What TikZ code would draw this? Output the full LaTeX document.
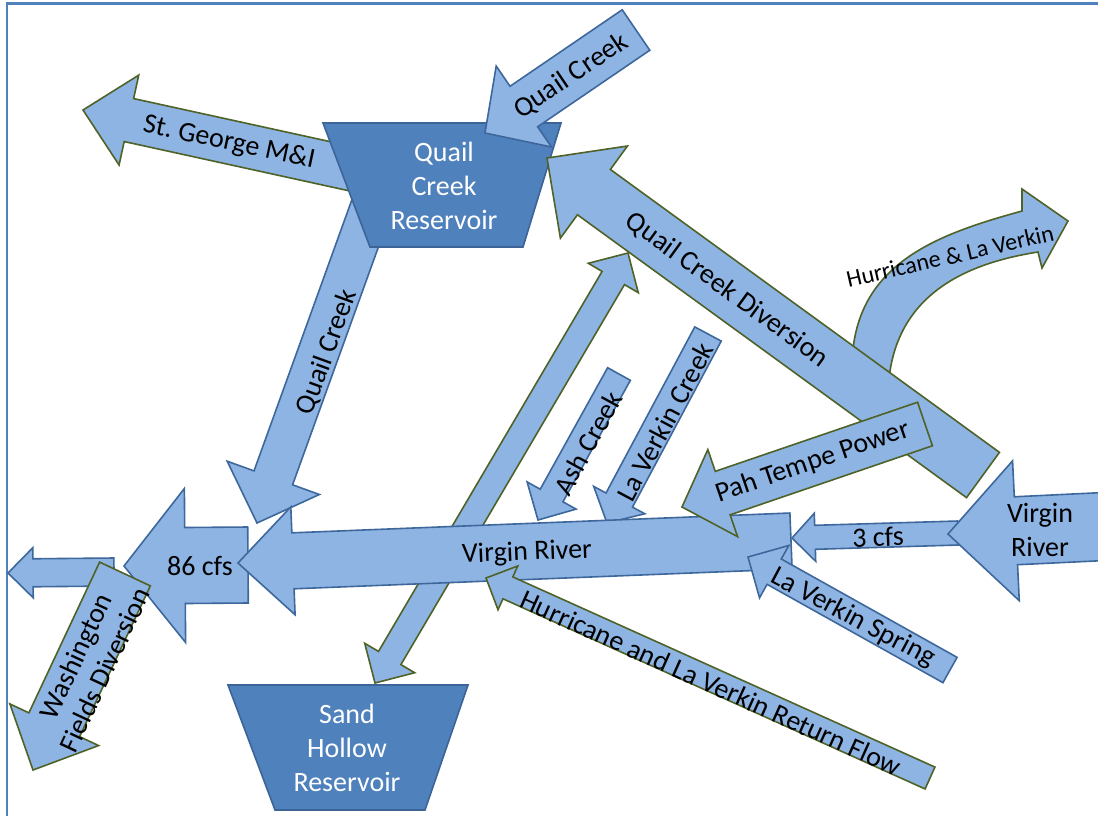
\documentclass[tikz,border=0pt]{standalone}
\usepackage{fontspec}
\setmainfont{Carlito}
\usetikzlibrary{calc}
\frenchspacing
\definecolor{arrowfill}{RGB}{142,180,227}
\definecolor{resfill}{RGB}{79,129,189}
\definecolor{resline}{RGB}{60,100,150}
\definecolor{blueline}{RGB}{62,104,156}
\definecolor{greenline}{RGB}{79,98,40}
\definecolor{framecol}{RGB}{79,129,189}
\tikzset{
  arrB/.style={fill=arrowfill, draw=blueline, line width=1.6pt},
  arrG/.style={fill=arrowfill, draw=greenline, line width=1.6pt},
  res/.style={fill=resfill, draw=resline, line width=1.6pt},
  lbl/.style={font=\fontsize{28}{32}\selectfont, inner sep=0pt, align=center, text=black},
  lblsmall/.style={font=\fontsize{24}{28}\selectfont, inner sep=0pt, text=black},
  reslbl/.style={font=\fontsize{28}{34}\selectfont, inner sep=0pt, align=center, text=white},
  frameline/.style={draw=framecol, line width=2.4pt}
}
% #1 name, #2 style, #3 tail, #4 tip, #5 half shaft, #6 half head, #7 head length
\newcommand{\blockarrow}[7]{%
  \coordinate (#1-t) at #3;
  \coordinate (#1-p) at #4;
  \coordinate (#1-n) at ($(#1-p)!#7!(#1-t)$);
  \draw[#2] ($(#1-t)!#5!90:(#1-p)$) -- ($(#1-n)!#5!90:(#1-p)$) -- ($(#1-n)!#6!90:(#1-p)$)
    -- (#1-p) -- ($(#1-n)!#6!-90:(#1-p)$) -- ($(#1-n)!#5!-90:(#1-p)$)
    -- ($(#1-t)!#5!-90:(#1-p)$) -- cycle;
}
% double headed: #1 name, #2 style, #3 end A, #4 end B, #5 half shaft, #6 half head, #7 head length
\newcommand{\dblockarrow}[7]{%
  \coordinate (#1-a) at #3;
  \coordinate (#1-b) at #4;
  \coordinate (#1-na) at ($(#1-a)!#7!(#1-b)$);
  \coordinate (#1-nb) at ($(#1-b)!#7!(#1-a)$);
  \draw[#2] (#1-a) -- ($(#1-na)!#6!90:(#1-b)$) -- ($(#1-na)!#5!90:(#1-b)$)
    -- ($(#1-nb)!#5!-90:(#1-a)$) -- ($(#1-nb)!#6!-90:(#1-a)$) -- (#1-b)
    -- ($(#1-nb)!#6!90:(#1-a)$) -- ($(#1-nb)!#5!90:(#1-a)$)
    -- ($(#1-na)!#5!-90:(#1-b)$) -- ($(#1-na)!#6!-90:(#1-b)$) -- cycle;
}
\begin{document}
\begin{tikzpicture}[x=1pt,y=-1pt]
\useasboundingbox (0,0) rectangle (1098,815);
\clip (0,0) rectangle (1098,815);
\fill[white] (0,0) rectangle (1098,815);
\draw[frameline] (7,820) -- (7,3.5) -- (1105,3.5);

% St. George M&I
\blockarrow{stg}{arrG}{(366,172)}{(83,110)}{22pt}{46pt}{47pt}
\node[lbl, rotate=-12] (stgL) at (229,143) {St. George M\&I};

% Quail Creek (down to river)
\blockarrow{qcd}{arrB}{(379,185)}{(257,523)}{20.5pt}{49pt}{48pt}
\node[lbl, rotate=70] (qcdL) at (327,352) {Quail Creek};

% Quail Creek Reservoir
\draw[res] (323,123) coordinate (qr1) -- (561,123) coordinate (qr2) -- (523,247) coordinate (qr3) -- (370,247) coordinate (qr4) -- cycle;
\node[reslbl] (qcr) at (444,186) {Quail\\Creek\\Reservoir};

% Quail Creek (into reservoir)
\blockarrow{qct}{arrB}{(636,30)}{(485,133)}{24.5pt}{49pt}{47pt}
\node[lbl, rotate=34] (qctL) at (571,76) {Quail Creek};

% Hurricane & La Verkin (curved)
\draw[arrG] (852,372) .. controls (850,265) and (935,235) .. (1022,211)
  -- (1022,189) -- (1068,221) -- (1042,268) -- (1038,252)
  .. controls (975,262) and (888,290) .. (888,398) -- cycle;
\node[lblsmall, rotate=13] (hlvL) at (950,256) {Hurricane \& La Verkin};

% Quail Creek Diversion
\blockarrow{qcdiv}{arrG}{(983,475)}{(547,158)}{28pt}{57pt}{58pt}
\node[lbl, rotate=-36] (qcdivL) at (727,290) {Quail Creek Diversion};

% Sand Hollow <-> Quail Creek Diversion
\dblockarrow{dbl}{arrG}{(375,683)}{(628,253)}{13pt}{29pt}{29pt}

% Ash Creek, La Verkin Creek
\blockarrow{ash}{arrB}{(619,374)}{(538,520)}{13pt}{28pt}{28pt}
\node[lbl, rotate=61] (ashL) at (588,443) {Ash Creek};
\blockarrow{lvc}{arrB}{(708,334)}{(607,523)}{15pt}{29pt}{26pt}
\node[lbl, rotate=62] (lvcL) at (665,422) {La Verkin Creek};

% 86 cfs
\blockarrow{cfs86}{arrB}{(248,565)}{(124,566)}{38pt}{77pt}{61pt}
\node[lbl] (cfs86L) at (200,566) {86 cfs};

% Virgin River (main)
\blockarrow{vr}{arrB}{(791,541)}{(238,563)}{28pt}{54pt}{55pt}
\node[lbl, rotate=2.3] (vrL) at (527,553) {Virgin River};

% 3 cfs
\blockarrow{cfs3}{arrB}{(958,533)}{(792,538)}{12pt}{24pt}{23pt}
\node[lbl, rotate=2] (cfs3L) at (878,537) {3 cfs};

% Virgin River (incoming, right)
\blockarrow{vrr}{arrB}{(1115,526)}{(948,534)}{34pt}{70pt}{68pt}
\node[lbl, font=\fontsize{28}{34}\selectfont] (vrrL) at (1040,530) {Virgin\\River};

% La Verkin Spring
\blockarrow{lvs}{arrB}{(950,670)}{(748,557)}{14.5pt}{30pt}{30pt}
\node[lbl, rotate=-28] (lvsL) at (853,618) {La Verkin Spring};

% Pah Tempe Power
\blockarrow{pah}{arrG}{(925,424)}{(682,507)}{23pt}{46pt}{43pt}
\node[lbl, rotate=19] (pahL) at (813,462) {Pah Tempe Power};

% Hurricane and La Verkin Return Flow
\blockarrow{ret}{arrG}{(930,778)}{(486,578)}{12pt}{24pt}{24pt}
\node[lbl, rotate=-24.2] (retL) at (711,683) {Hurricane and La Verkin Return Flow};

% small outflow arrow
\blockarrow{sml}{arrB}{(114,572)}{(8,573)}{14pt}{25pt}{25pt}

% Washington Fields Diversion
\blockarrow{wfd}{arrG}{(125,574)}{(33,770)}{28pt}{49pt}{50pt}
\node[lbl, rotate=65] (wfdL) at (90,663) {Washington\\Fields Diversion};

% Sand Hollow Reservoir
\draw[res] (228,685) coordinate (sh1) -- (468,685) coordinate (sh2) -- (425,810) coordinate (sh3) -- (275,810) coordinate (sh4) -- cycle;
\node[reslbl] (shr) at (347,748) {Sand\\Hollow\\Reservoir};
\end{tikzpicture}
\end{document}
